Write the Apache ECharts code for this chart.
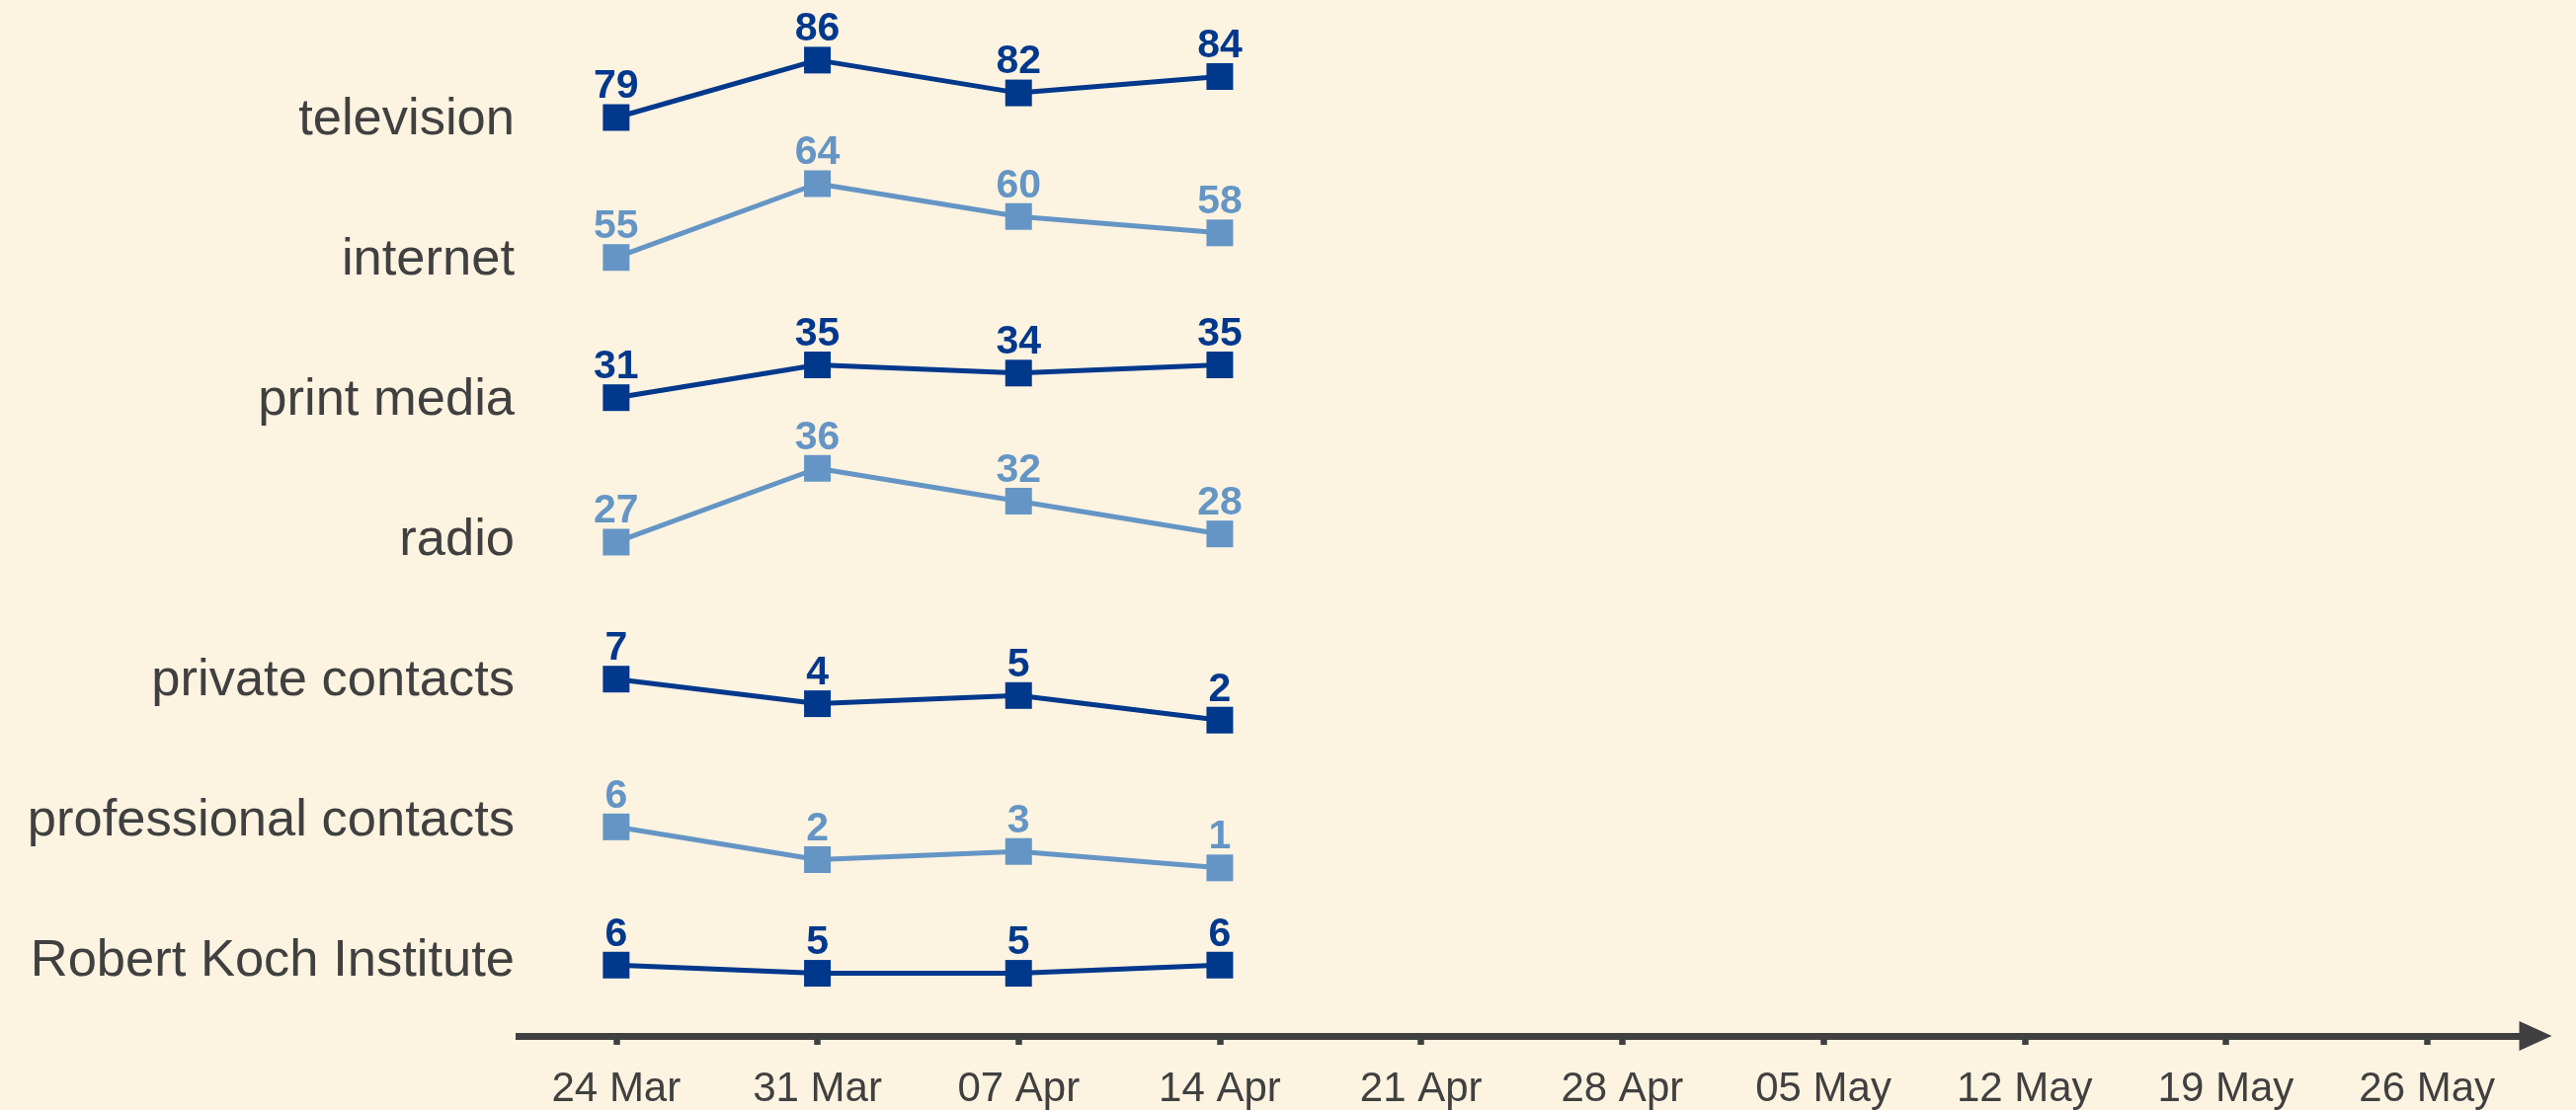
<!DOCTYPE html>
<html>
<head>
<meta charset="utf-8">
<script src="https://cdn.jsdelivr.net/npm/echarts@6/dist/echarts.min.js"></script>
<style>
  html, body { margin: 0; padding: 0; background: #fdf3e1; }
  #chart { width: 2608px; height: 1124px; }
</style>
</head>
<body>
<div id="chart"></div>
<script>
// weeks on the x axis
const weeks = ['24 Mar', '31 Mar', '07 Apr', '14 Apr', '21 Apr', '28 Apr', '05 May', '12 May', '19 May', '26 May'];

// one row per source, top to bottom
const sources = ['television', 'internet', 'print media', 'radio', 'private contacts', 'professional contacts', 'Robert Koch Institute'];
const television = [79, 86, 82, 84];
const internet = [55, 64, 60, 58];
const printMedia = [31, 35, 34, 35];
const radio = [27, 36, 32, 28];
const privateContacts = [7, 4, 5, 2];
const professionalContacts = [6, 2, 3, 1];
const robertKoch = [6, 5, 5, 6];

const rows = [television, internet, printMedia, radio, privateContacts, professionalContacts, robertKoch];

// where each row's little value axis starts (all rows share the same span)
const rowMin = [70.12, 46.08, 22.07, 18.58, -1.82, -1.91, -2.16];
const rowSpan = 17.11;

const dark = '#00388c';
const light = '#6495c5';
const textColor = '#404040';

const chart = echarts.init(document.getElementById('chart'));

const rowH = 142.05;
const firstCenter = 121.7;

const grid = [];
const xAxis = [];
const yAxis = [];
const series = [];

rows.forEach((vals, i) => {
  const color = i % 2 === 0 ? dark : light;
  const last = i === rows.length - 1;
  grid.push({
    left: 522,
    right: 49,
    top: firstCenter + i * rowH - rowH / 2,
    height: rowH,
    containLabel: false,
    outerBoundsMode: 'none'
  });
  // only the bottom row shows its x axis
  xAxis.push({
    gridIndex: i,
    type: 'category',
    data: weeks,
    boundaryGap: true,
    show: last,
    offset: last ? 4 : 0,
    axisLine: {
      show: true,
      onZero: false,
      symbol: ['none', 'triangle'],
      symbolSize: [30, 33],
      symbolOffset: [0, 8],
      lineStyle: { color: textColor, width: 7, cap: 'butt' }
    },
    axisTick: {
      show: true,
      alignWithLabel: true,
      length: 9,
      lineStyle: { color: textColor, width: 6.5 }
    },
    axisLabel: {
      color: textColor,
      fontFamily: 'Liberation Sans',
      fontSize: 42,
      margin: 33
    },
    splitLine: { show: false }
  });
  yAxis.push({
    gridIndex: i,
    type: 'value',
    min: rowMin[i],
    max: rowMin[i] + rowSpan,
    name: sources[i],
    nameLocation: 'middle',
    nameRotate: 0,
    nameGap: 1,
    nameTextStyle: {
      color: textColor,
      fontFamily: 'Liberation Sans',
      fontSize: 52.5,
      align: 'right',
      verticalAlign: 'middle',
      padding: [6, 0, 0, 0]
    },
    axisLine: { show: false },
    axisTick: { show: false },
    axisLabel: { show: false },
    splitLine: { show: false }
  });
  series.push({
    name: sources[i],
    type: 'line',
    xAxisIndex: i,
    yAxisIndex: i,
    data: vals,
    clip: false,
    symbol: 'rect',
    symbolSize: 27,
    color: color,
    lineStyle: { color: color, width: 5 },
    itemStyle: { color: color },
    label: {
      show: true,
      position: 'top',
      distance: 0,
      offset: [0, 3],
      color: color,
      fontFamily: 'Liberation Sans',
      fontWeight: 'bold',
      fontSize: 41
    },
    animation: false
  });
});

const option = {
  backgroundColor: '#fdf3e1',
  animation: false,
  grid: grid,
  xAxis: xAxis,
  yAxis: yAxis,
  series: series
};
chart.setOption(option);
</script>
</body>
</html>
